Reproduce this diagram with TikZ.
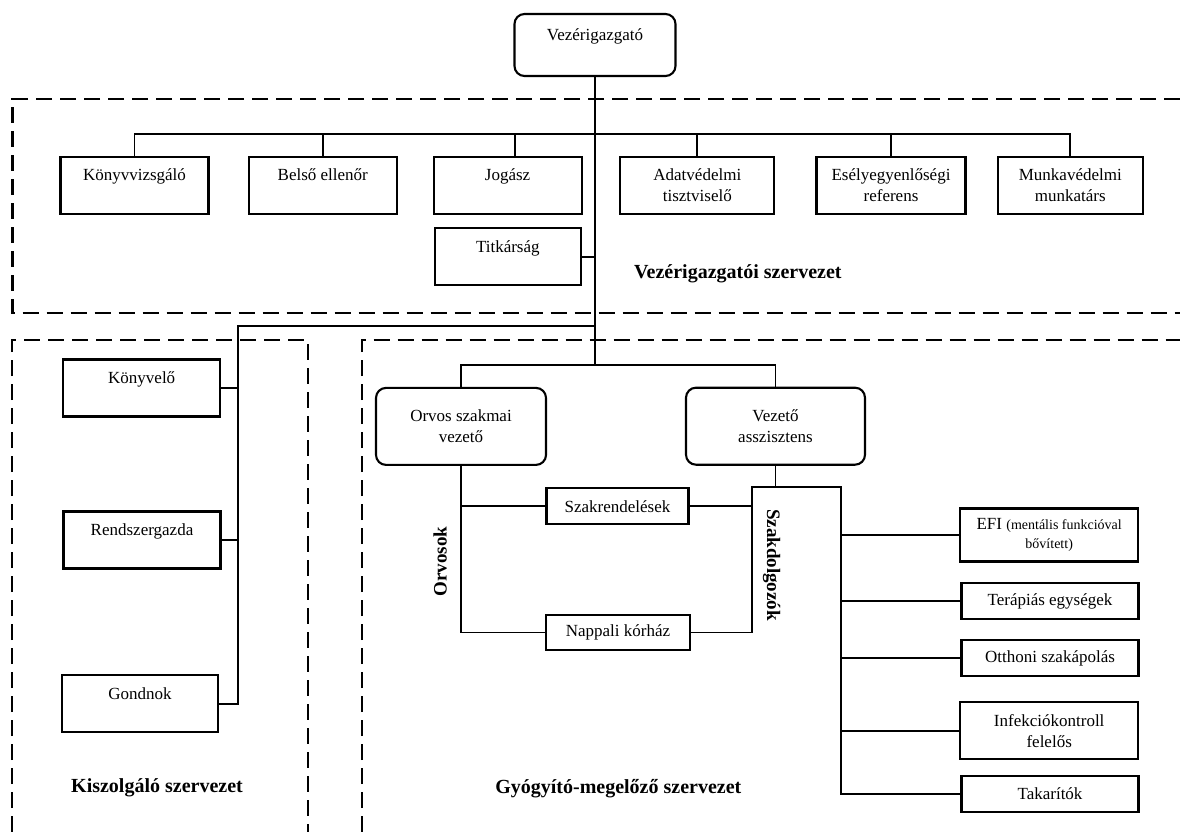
\documentclass[tikz,border=0pt]{standalone}
\usepackage{fontspec}
\setmainfont{Liberation Serif}
\begin{document}
\begin{tikzpicture}[x=1pt,y=-1pt,
  box/.style={draw, line width=2.1pt, align=center, inner sep=0pt, font=\fontsize{17}{21}\selectfont},
  rbox/.style={box, rounded corners=10pt},
  conn/.style={line width=1.8pt},
  grp/.style={line width=2.3pt, dash pattern=on 16pt off 8pt},
  lbl/.style={font=\fontsize{20}{24}\selectfont\bfseries},
  vlbl/.style={font=\fontsize{19}{23}\selectfont\bfseries},
]
\useasboundingbox (0,0) rectangle (1180,832);

% group frames
\draw[grp] (1180,98.7) -- (12.6,98.7) -- (12.6,313.3) -- (1180,313.3);
\draw[grp] (12.3,832) -- (12.3,340) -- (308.3,340) -- (308.3,832);
\draw[grp] (361.7,832) -- (361.7,340) -- (1180,340);

% top
\node[rbox, minimum width=161pt, minimum height=62pt] (vg) at (595,45) {Vezérigazgató\\\mbox{}};

\node[box, minimum width=148pt, minimum height=57pt] (kv) at (134.5,185.3) {Könyvvizsgáló\\\mbox{}};
\node[box, minimum width=148pt, minimum height=57pt] (be) at (322.8,185.3) {Belső ellenőr\\\mbox{}};
\node[box, minimum width=148pt, minimum height=57pt] (jo) at (507.6,185.3) {Jogász\\\mbox{}};
\node[box, minimum width=154pt, minimum height=57pt] (ad) at (697.3,185.3) {Adatvédelmi\\tisztviselő};
\node[box, minimum width=149pt, minimum height=57pt] (es) at (891,185.3) {Esélyegyenlőségi\\referens};
\node[box, minimum width=145pt, minimum height=57pt] (mu) at (1070.3,185.3) {Munkavédelmi\\munkatárs};
\node[box, minimum width=146pt, minimum height=57pt] (tk) at (507.8,256.7) {Titkárság\\\mbox{}};
\node[lbl] (vsz) at (737.8,274) {Vezérigazgatói szervezet};

\coordinate (t1) at (595,134);
\coordinate (gbus) at (595,365);
\coordinate (k1) at (595,326);
\coordinate (k2) at (238,326);

\draw[conn] (vg.south) -- (gbus);
\draw[conn] (kv.north) -- (kv.north |- t1) -- (mu.north |- t1) -- (mu.north);
\foreach \n in {be,ad,es} \draw[conn] (\n.north) -- (\n.north |- t1);
\draw[conn] ([xshift=7pt]jo.north) -- ([xshift=7pt]jo.north |- t1);
\draw[conn] (tk.east) -- (tk.east -| t1);

% Kiszolgáló
\node[box, minimum width=157pt, minimum height=57pt] (kn) at (141.7,388) {Könyvelő\\\mbox{}};
\node[box, minimum width=157pt, minimum height=57pt] (rg) at (142,540) {Rendszergazda\\\mbox{}};
\node[box, minimum width=156pt, minimum height=57pt] (gn) at (139.9,703.7) {Gondnok\\\mbox{}};
\node[lbl] (ksz) at (157,788) {Kiszolgáló szervezet};

\draw[conn] (k1) -- (k2) -- (k2 |- gn.east) -- (gn.east);
\draw[conn] (kn.east) -- (kn.east -| k2);
\draw[conn] (rg.east) -- (rg.east -| k2);

% Gyógyító-megelőző
\node[rbox, minimum width=170pt, minimum height=77pt] (osv) at (461,426.4) {Orvos szakmai\\vezető};
\node[rbox, minimum width=179pt, minimum height=77pt] (va) at (775.5,426.2) {Vezető\\asszisztens};
\node[box, minimum width=142pt, minimum height=36pt] (szr) at (617.5,506.2) {Szakrendelések};
\node[box, minimum width=144pt, minimum height=35pt] (nk) at (618,632.5) {Nappali kórház};
\node[vlbl, rotate=90] (orv) at (440,561.7) {Orvosok};
\node[vlbl, rotate=-90] (szd) at (771.7,565) {Szakdolgozók};

\node[box, minimum width=178pt, minimum height=53pt, font=\fontsize{17}{19}\selectfont] (efi) at (1049.2,535) {EFI {\fontsize{14}{19}\selectfont(mentális funkcióval}\\{\fontsize{14}{19}\selectfont bővített)}};
\node[box, minimum width=177pt, minimum height=36pt] (ter) at (1050,601.2) {Terápiás egységek};
\node[box, minimum width=177pt, minimum height=36pt] (ott) at (1050,657.9) {Otthoni szakápolás};
\node[box, minimum width=178pt, minimum height=57pt] (inf) at (1049.2,730.7) {Infekciókontroll\\felelős};
\node[box, minimum width=177pt, minimum height=36pt] (tak) at (1050,793.7) {Takarítók};
\node[lbl] (gysz) at (618.3,788.3) {Gyógyító-megelőző szervezet};

\coordinate (sd) at (751.7,487);
\coordinate (rb) at (840.7,487);

\draw[conn] (osv.north) -- (osv.north |- gbus) -- (va.north |- gbus) -- (va.north);
\draw[conn] (osv.south) -- (osv.south |- nk.west) -- (nk.west);
\draw[conn] (szr.west) -- (szr.west -| osv.south);
\draw[conn] (nk.east) -- (nk.east -| sd) -- (sd) -- (rb) -- (rb |- tak.west) -- (tak.west);
\draw[conn] (szr.east) -- (szr.east -| sd);
\draw[conn] (va.south) -- (va.south |- sd);
\foreach \n in {efi,ter,ott,inf} \draw[conn] (\n.west) -- (\n.west -| rb);
\end{tikzpicture}
\end{document}
